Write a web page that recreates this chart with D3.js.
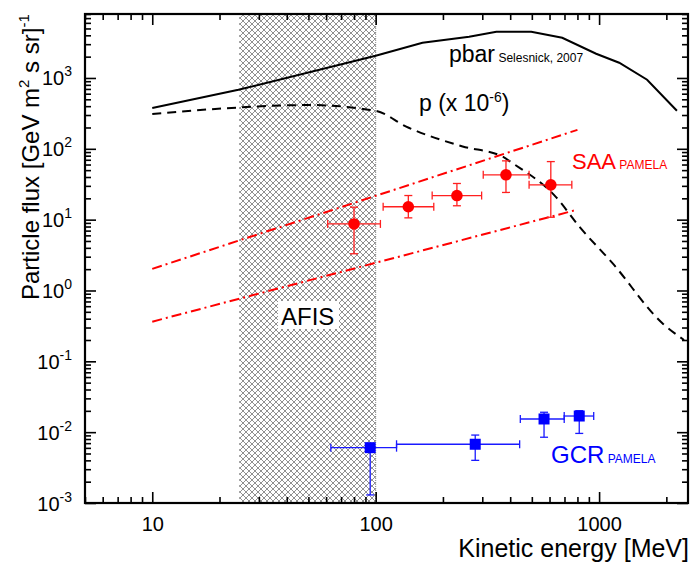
<!DOCTYPE html>
<html>
<head>
<meta charset="utf-8">
<script src="https://cdn.jsdelivr.net/npm/d3@7"></script>
<style>
body { margin: 0; background: #fff; }
text { font-family: "Liberation Sans", Arial, sans-serif; }
</style>
</head>
<body>
<svg width="691" height="564"></svg>
<script>
// antiproton flux (Selesnick 2007), MeV vs flux
var pbarE = [10, 24.3, 100, 162, 262, 347, 497, 684, 970, 1230, 1640, 2230];
var pbarFlux = [376, 681, 2060, 3140, 3820, 4500, 4500, 3700, 2200, 1640, 944, 344];

// proton flux x 1e-6
var protE = [10, 24.3, 50, 100, 137, 245, 369, 409, 640, 815, 1148, 1920, 2400];
var protFlux = [309, 383, 415, 344, 206, 108, 78, 63, 21, 8, 2.43, 0.345, 0.2];

// SAA model band (dash-dot)
var bandUpE = [10, 800];
var bandUpFlux = [2.02, 185];
var bandLoE = [10, 790];
var bandLoFlux = [0.363, 13.7];

// SAA PAMELA
var saaE = [80, 140, 231, 383, 608];
var saaFlux = [8.7, 15.2, 21.9, 43, 31];
var saaElo = [61, 108, 179, 303, 486];
var saaEhi = [105, 182, 298, 486, 755];
var saaFlo = [3.3, 10.6, 15.7, 24.2, 10.8];
var saaFhi = [15, 21.9, 32.4, 67.6, 66];

// GCR PAMELA
var gcrE = [94.5, 279, 567, 815];
var gcrFlux = [0.00604, 0.00675, 0.01535, 0.0169];
var gcrElo = [63, 124, 444, 698];
var gcrEhi = [124, 441, 698, 946];
var gcrFlo = [0.0013, 0.0040, 0.00848, 0.0096];
var gcrFhi = [0.0062, 0.0091, 0.0191, 0.0201];

// AFIS energy window
var afisRange = [24.5, 100];

var xMajor = [10, 100, 1000];
var yMajor = [1e-3, 1e-2, 1e-1, 1, 10, 100, 1000];
var yExp = [-3, -2, -1, 0, 1, 2, 3];

var svg = d3.select('svg');
var mLeft = 85, mRight = 688, mTop = 14, mBottom = 503;

var x = d3.scaleLog().domain([5, 2500]).range([mLeft, mRight]);
var y = d3.scaleLog().domain([1e-3, 8000]).range([mBottom, mTop]);

function minors(scale) {
    var out = [];
    var dom = scale.domain();
    for (var e = -4; e <= 4; e++) {
        for (var k = 2; k <= 9; k++) {
            var v = k * Math.pow(10, e);
            if (v >= dom[0] * 0.999 && v <= dom[1] * 1.001) out.push(v);
        }
    }
    return out;
}
var xMinor = minors(x);
var yMinor = minors(y);

// hatch pattern
var defs = svg.append('defs');
var pat = defs.append('pattern')
    .attr('id', 'hatch')
    .attr('patternUnits', 'userSpaceOnUse')
    .attr('width', 6).attr('height', 6);
pat.append('rect').attr('width', 6).attr('height', 6).attr('fill', '#fff');
pat.append('path')
    .attr('d', 'M0,0L6,6M6,0L0,6M-1,5L1,7M5,-1L7,1M-1,1L1,-1M5,7L7,5')
    .attr('stroke', '#8a8a8a')
    .attr('stroke-width', 0.95);

svg.append('rect')
    .attr('x', x(afisRange[0]))
    .attr('y', mTop)
    .attr('width', x(afisRange[1]) - x(afisRange[0]))
    .attr('height', mBottom - mTop)
    .attr('fill', 'url(#hatch)');

svg.append('line')
    .attr('x1', x(afisRange[1])).attr('x2', x(afisRange[1]))
    .attr('y1', mTop).attr('y2', mBottom)
    .attr('stroke', '#888').attr('stroke-dasharray', '1,1');

// AFIS label with white box
svg.append('rect')
    .attr('x', 278).attr('y', 301).attr('width', 61).attr('height', 28)
    .attr('fill', '#fff');
svg.append('text')
    .text('AFIS')
    .attr('x', 281).attr('y', 325)
    .attr('font-size', 24);

var line = d3.line()
    .x(function (d) { return x(d[0]); })
    .y(function (d) { return y(d[1]); });

function pairs(a, b) {
    return a.map(function (v, i) { return [v, b[i]]; });
}

svg.append('path')
    .attr('d', line(pairs(pbarE, pbarFlux)))
    .attr('fill', 'none').attr('stroke', '#000').attr('stroke-width', 2);

svg.append('path')
    .attr('d', line.curve(d3.curveMonotoneX)(pairs(protE, protFlux)))
    .attr('fill', 'none').attr('stroke', '#000').attr('stroke-width', 2)
    .attr('stroke-dasharray', '9,6');
line.curve(d3.curveLinear);

svg.append('path')
    .attr('d', line(pairs(bandUpE, bandUpFlux)))
    .attr('fill', 'none').attr('stroke', '#ff0000').attr('stroke-width', 2)
    .attr('stroke-dasharray', '10,4,2,4');

svg.append('path')
    .attr('d', line(pairs(bandLoE, bandLoFlux)))
    .attr('fill', 'none').attr('stroke', '#ff0000').attr('stroke-width', 2)
    .attr('stroke-dasharray', '10,4,2,4');

function errorBars(E, F, Elo, Ehi, Flo, Fhi, color, cls) {
    var g = svg.append('g').attr('class', cls)
        .attr('stroke', color).attr('stroke-width', 1.3);
    var cap = 4;
    E.forEach(function (e, i) {
        var cx = x(e), cy = y(F[i]);
        g.append('line').attr('x1', x(Elo[i])).attr('x2', x(Ehi[i])).attr('y1', cy).attr('y2', cy);
        g.append('line').attr('x1', cx).attr('x2', cx).attr('y1', y(Flo[i])).attr('y2', y(Fhi[i]));
        g.append('line').attr('x1', x(Elo[i])).attr('x2', x(Elo[i])).attr('y1', cy - cap).attr('y2', cy + cap);
        g.append('line').attr('x1', x(Ehi[i])).attr('x2', x(Ehi[i])).attr('y1', cy - cap).attr('y2', cy + cap);
        g.append('line').attr('x1', cx - cap).attr('x2', cx + cap).attr('y1', y(Flo[i])).attr('y2', y(Flo[i]));
        g.append('line').attr('x1', cx - cap).attr('x2', cx + cap).attr('y1', y(Fhi[i])).attr('y2', y(Fhi[i]));
    });
}

errorBars(saaE, saaFlux, saaElo, saaEhi, saaFlo, saaFhi, '#ff2020', 'saa-err');
errorBars(gcrE, gcrFlux, gcrElo, gcrEhi, gcrFlo, gcrFhi, '#1a1aff', 'gcr-err');

svg.selectAll('.saa')
    .data(pairs(saaE, saaFlux))
    .enter()
    .append('circle')
    .attr('class', 'saa')
    .attr('cx', function (d) { return x(d[0]); })
    .attr('cy', function (d) { return y(d[1]); })
    .attr('r', 5.8)
    .attr('fill', '#ff0000');

svg.selectAll('.gcr')
    .data(pairs(gcrE, gcrFlux))
    .enter()
    .append('rect')
    .attr('class', 'gcr')
    .attr('x', function (d) { return x(d[0]) - 5.5; })
    .attr('y', function (d) { return y(d[1]) - 5.5; })
    .attr('width', 11).attr('height', 11)
    .attr('fill', '#0000ff');

// curve labels
var t1 = svg.append('text').attr('x', 449).attr('y', 62).attr('font-size', 23);
t1.append('tspan').text('pbar');
t1.append('tspan').text(' Selesnick, 2007').attr('font-size', 12);

var t2 = svg.append('text').attr('x', 419).attr('y', 111).attr('font-size', 23);
t2.append('tspan').text('p (x 10');
t2.append('tspan').text('-6').attr('font-size', 14).attr('dy', -9);
t2.append('tspan').text(')').attr('dy', 9);

var t3 = svg.append('text').attr('x', 572).attr('y', 169).attr('font-size', 22).attr('fill', '#ff0000');
t3.append('tspan').text('SAA');
t3.append('tspan').text(' PAMELA').attr('font-size', 12);

var t4 = svg.append('text').attr('x', 551).attr('y', 463).attr('font-size', 24).attr('fill', '#0000ff');
t4.append('tspan').text('GCR');
t4.append('tspan').text(' PAMELA').attr('font-size', 12);

// axes, ticks pointing inward on all sides
function styleAxis(g) {
    g.select('.domain').remove();
    g.selectAll('.tick line').attr('stroke', '#000').attr('stroke-width', 1.6);
}

svg.append('g').attr('transform', 'translate(0,' + mBottom + ')')
    .call(d3.axisBottom(x).tickValues(xMinor).tickSize(-6).tickFormat(''))
    .call(styleAxis);
var xAx = svg.append('g').attr('transform', 'translate(0,' + mBottom + ')')
    .call(d3.axisBottom(x).tickValues(xMajor).tickSize(-11).tickPadding(14).tickFormat(d3.format('d')))
    .call(styleAxis);
xAx.selectAll('text').attr('font-size', 20).attr('fill', '#000')
    .attr('font-family', '"Liberation Sans", Arial, sans-serif');

svg.append('g').attr('transform', 'translate(0,' + mTop + ')')
    .call(d3.axisTop(x).tickValues(xMinor).tickSize(-6).tickFormat(''))
    .call(styleAxis);
svg.append('g').attr('transform', 'translate(0,' + mTop + ')')
    .call(d3.axisTop(x).tickValues(xMajor).tickSize(-11).tickFormat(''))
    .call(styleAxis);

svg.append('g').attr('transform', 'translate(' + mLeft + ',0)')
    .call(d3.axisLeft(y).tickValues(yMinor).tickSize(-6).tickFormat(''))
    .call(styleAxis);
var yAx = svg.append('g').attr('transform', 'translate(' + mLeft + ',0)')
    .call(d3.axisLeft(y).tickValues(yMajor).tickSize(-11).tickPadding(13).tickFormat(''))
    .call(styleAxis);
yAx.selectAll('.tick text').each(function (d, i) {
    var t = d3.select(this)
        .attr('font-size', 20).attr('fill', '#000')
        .attr('font-family', '"Liberation Sans", Arial, sans-serif')
        .attr('dy', '0.35em');
    t.append('tspan').text('10');
    t.append('tspan').text(yExp[i]).attr('font-size', 14).attr('dy', -9);
});

svg.append('g').attr('transform', 'translate(' + mRight + ',0)')
    .call(d3.axisRight(y).tickValues(yMinor).tickSize(-6).tickFormat(''))
    .call(styleAxis);
svg.append('g').attr('transform', 'translate(' + mRight + ',0)')
    .call(d3.axisRight(y).tickValues(yMajor).tickSize(-11).tickFormat(''))
    .call(styleAxis);

svg.append('rect')
    .attr('x', mLeft).attr('y', mTop)
    .attr('width', mRight - mLeft).attr('height', mBottom - mTop)
    .attr('fill', 'none').attr('stroke', '#000').attr('stroke-width', 2.2);

// axis titles
svg.append('text')
    .text('Kinetic energy [MeV]')
    .attr('x', 689).attr('y', 557)
    .attr('text-anchor', 'end')
    .attr('font-size', 25);

var yt = svg.append('text')
    .attr('transform', 'translate(39,300)rotate(-90)')
    .attr('font-size', 24);
yt.append('tspan').text('Particle flux [GeV m');
yt.append('tspan').text('2').attr('font-size', 15).attr('dy', -10);
yt.append('tspan').text(' s sr]').attr('dy', 10);
yt.append('tspan').text('-1').attr('font-size', 15).attr('dy', -10);
</script>
</body>
</html>
